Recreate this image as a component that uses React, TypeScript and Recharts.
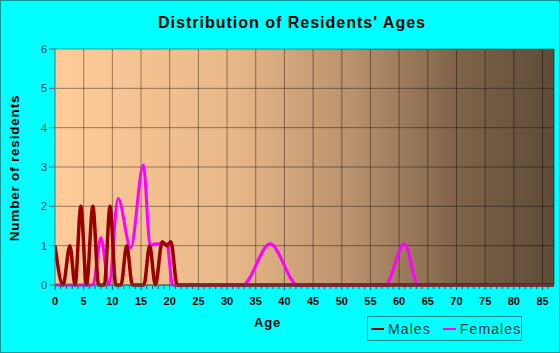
import React from 'react';
import { LineChart, Line, XAxis, YAxis, CartesianGrid, ReferenceLine } from 'recharts';

// ages (x) and resident counts (y)
const maleAges = [0, 1.4, 2.6, 3.5, 4.5, 5.5, 6.6, 7.6, 8.6, 9.6, 10.6, 11.5, 12.5, 13.5, 15.5, 16.5, 17.5, 18.7, 19.5, 20.2, 21.3, 87];
const maleCounts = [1, 0, 1, 0, 2, 0, 2, 0, 0, 2, 0, 0, 1, 0, 0, 1, 0, 1.1, 1.0, 1.1, 0, 0];

const femaleAges = [0, 6.6, 8.0, 9.4, 11.0, 13.2, 15.4, 16.6, 17.5, 18.5, 19.5, 20.5, 32.7, 37.5, 42.3, 57.6, 60.9, 63.3, 65.4];
const femaleCounts = [0, 0, 1.2, 0, 2.2, 0.95, 3.05, 1.0, 1.05, 1.05, 1.05, 0, 0, 1.05, 0, 0, 1.05, 0, 0];

const yTicks = [0, 1, 2, 3, 4, 5, 6];
const xMajorTicks = [0, 5, 10, 15, 20, 25, 30, 35, 40, 45, 50, 55, 60, 65, 70, 75, 80, 85];
const xMax = 87;

const males = maleAges.map((age, i) => ({ age, count: maleCounts[i] }));
const females = femaleAges.map((age, i) => ({ age, count: femaleCounts[i] }));
const xAllTicks = Array.from({ length: xMax }, (_, i) => i);

const MALE_COLOR = '#990000';
const FEMALE_COLOR = '#ff00ff';
const FONT = "Arial, 'Liberation Sans', sans-serif";

const AgeTick = (props: any) => {
  const { x, y, payload } = props;
  const v = payload.value;
  const major = v % 5 === 0;
  return (
    <g>
      <line x1={x} x2={x} y1={y + 1} y2={y + (major ? 5 : 4)} stroke="#335555" />
      {major && (
        <text x={x} y={y + 20} textAnchor="middle" fontSize={11} fontWeight="bold" fill="#000" fontFamily={FONT}>
          {v}
        </text>
      )}
    </g>
  );
};

const LegendItem = ({ color, label, gap }: { color: string; label: string; gap: number }) => (
  <span style={{ display: 'inline-flex', alignItems: 'center', marginRight: gap }}>
    <span style={{ display: 'inline-block', width: 13, height: 2, background: color, marginRight: 4 }} />
    <span>{label}</span>
  </span>
);

const App = () => {
  return (
    <div style={{ position: 'absolute', left: 0, top: 0, width: 560, height: 353, background: '#00ffff', border: '1px solid #0a9a9a', boxSizing: 'border-box', fontFamily: FONT }}>
      <style>{'body{margin:0}'}</style>
      <div style={{ position: 'absolute', left: 0, top: 13, width: 582, textAlign: 'center', fontSize: 16, fontWeight: 'bold', letterSpacing: 1, color: '#000' }}>
        Distribution of Residents' Ages
      </div>
      <div style={{ position: 'absolute', left: 0, top: 0 }}>
        <LineChart width={558} height={351} margin={{ top: 48, right: 5, left: 0, bottom: 0 }}>
          <defs>
            <linearGradient id="plotBg" x1="0" y1="0" x2="1" y2="0">
              <stop offset="0%" stopColor="#ffcc99" />
              <stop offset="35%" stopColor="#e9b889" />
              <stop offset="60%" stopColor="#b8916d" />
              <stop offset="80%" stopColor="#806449" />
              <stop offset="100%" stopColor="#5e4b38" />
            </linearGradient>
          </defs>
          <CartesianGrid vertical={false} fill="url(#plotBg)" fillOpacity={1} stroke="rgba(0,0,0,0.4)" />
          {xMajorTicks.filter((t) => t > 0).map((t) => (
            <ReferenceLine key={t} x={t} stroke="rgba(0,0,0,0.4)" />
          ))}
          <ReferenceLine x={xMax} stroke="rgba(0,0,0,0.5)" />
          <XAxis
            type="number"
            dataKey="age"
            domain={[0, xMax]}
            ticks={xAllTicks}
            interval={0}
            height={67}
            tickSize={0}
            tickMargin={0}
            tickLine={false}
            axisLine={{ stroke: '#555' }}
            tick={<AgeTick />}
            allowDataOverflow
          />
          <YAxis
            domain={[0, 6]}
            ticks={yTicks}
            width={54}
            tickSize={6}
            tickMargin={2}
            axisLine={{ stroke: '#666' }}
            tickLine={{ stroke: '#666' }}
            tick={{ fontSize: 11, fill: '#114444', fontFamily: FONT }}
          />
          <Line data={females} dataKey="count" type="monotone" stroke={FEMALE_COLOR} strokeWidth={3} dot={false} isAnimationActive={false} />
          <Line data={males} dataKey="count" type="monotone" stroke={MALE_COLOR} strokeWidth={3.5} dot={false} isAnimationActive={false} />
        </LineChart>
      </div>
      <div style={{ position: 'absolute', left: 13, top: 167, transform: 'translate(-50%, -50%) rotate(-90deg)', whiteSpace: 'nowrap', fontSize: 13.5, fontWeight: 'bold', letterSpacing: 0.8, color: '#000' }}>
        Number of residents
      </div>
      <div style={{ position: 'absolute', left: 253, top: 314, fontSize: 13, fontWeight: 'bold', letterSpacing: 0.8, color: '#000' }}>
        Age
      </div>
      <div style={{ position: 'absolute', left: 366, top: 315, width: 155, height: 25, border: '1px solid #0a8a8a', boxSizing: 'border-box', display: 'flex', alignItems: 'center', paddingLeft: 3, fontSize: 14, letterSpacing: 1.1, color: '#0a3333' }}>
        <LegendItem color={MALE_COLOR} label="Males" gap={12} />
        <LegendItem color={FEMALE_COLOR} label="Females" gap={0} />
      </div>
    </div>
  );
};

export default App;
